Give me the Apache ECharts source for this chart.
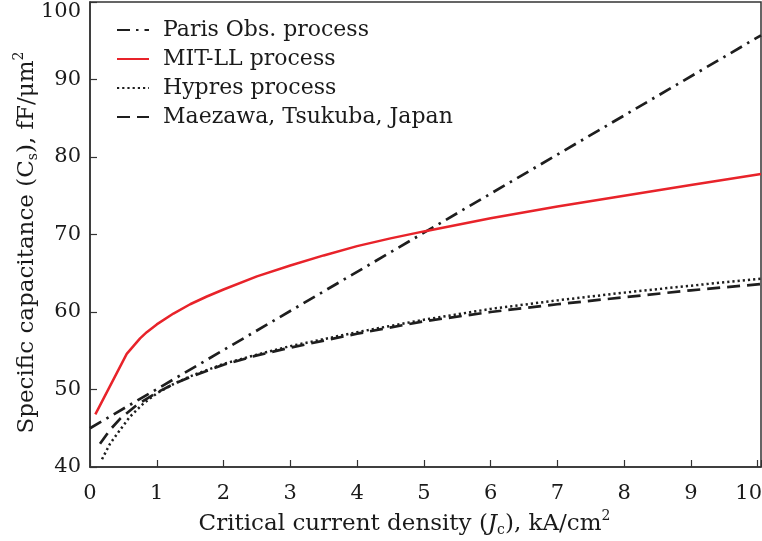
<!DOCTYPE html>
<html><head><meta charset="utf-8">
<script src="https://cdn.jsdelivr.net/npm/echarts@6/dist/echarts.min.js"></script>
<style>html,body{margin:0;padding:0;background:#fff}#c{width:762px;height:541px}</style>
</head><body><div id="c"></div>
<script>
const seriesNames = ['Paris Obs. process', 'MIT-LL process', 'Hypres process', 'Maezawa, Tsukuba, Japan'];
const parisX = [0, 10.05];
const parisY = [45.0, 95.7];
const mitX = [0.08, 0.55, 0.65, 0.75, 0.85, 1, 1.25, 1.5, 1.75, 2, 2.5, 3, 3.5, 4, 4.5, 5, 6, 7, 8, 9, 10.05];
const mitY = [46.8, 54.6, 55.6, 56.6, 57.4, 58.4, 59.8, 61.0, 62.0, 62.9, 64.6, 66.0, 67.3, 68.5, 69.5, 70.4, 72.1, 73.6, 75.0, 76.4, 77.8];
const hypX = [0.18, 0.3, 0.46, 0.6, 0.8, 1, 1.25, 1.5, 2, 2.5, 3, 4, 5, 6, 7, 8, 9, 10.05];
const hypY = [41.0, 43.0, 44.9, 46.5, 48.2, 49.5, 50.7, 51.7, 53.3, 54.5, 55.6, 57.4, 59.0, 60.4, 61.5, 62.5, 63.4, 64.3];
const maeX = [0.15, 0.3, 0.46, 0.7, 1, 1.25, 1.5, 2, 2.5, 3, 4, 5, 6, 7, 8, 9, 10.05];
const maeY = [43.0, 44.8, 46.3, 48.0, 49.6, 50.7, 51.6, 53.2, 54.4, 55.4, 57.2, 58.8, 60.0, 61.0, 61.9, 62.8, 63.6];
const xTicks = [0, 1, 2, 3, 4, 5, 6, 7, 8, 9, 10];
const yTicks = [40, 50, 60, 70, 80, 90, 100];

const zip = (xs, ys) => xs.map((x, i) => [x, ys[i]]);
const FONT = 'DejaVu Serif';
const TXT = '#1a1a1a';
const BLK = '#1e1e1e';
const lbl = (fs) => ({fontFamily: FONT, fontSize: fs, color: TXT});

const chart = echarts.init(document.getElementById('c'), null, {renderer: 'canvas'});
chart.setOption({
  animation: false,
  backgroundColor: '#fff',
  grid: {left: 90, top: 2, right: 1, bottom: 74, containLabel: false, outerBoundsMode: 'none',
         show: true, borderColor: '#333', borderWidth: 1.5, backgroundColor: 'transparent'},
  legend: {
    left: 111, top: 14, orient: 'vertical', itemWidth: 32, itemHeight: 14, itemGap: 7,
    itemStyle: {opacity: 0},
    textStyle: {fontFamily: FONT, fontSize: 22, color: TXT, padding: [0, 0, 0, 9]},
    data: seriesNames
  },
  xAxis: {
    type: 'value', min: 0, max: 10.05, interval: 1,
    nameMoveOverlap: false,
    axisLine: {lineStyle: {color: '#333', width: 1.5}},
    axisTick: {inside: true, length: 7, lineStyle: {color: '#333', width: 1.2}},
    splitLine: {show: false},
    axisLabel: Object.assign(lbl(21), {margin: 16,
      formatter: v => {
        const r = Math.round(v * 100) / 100;
        if (!xTicks.includes(r)) return '';
        return r === 10 ? '{e|10}' : String(r);
      },
      rich: {e: Object.assign(lbl(21), {padding: [0, 18, 0, 0]})}}),
    name: '{n|Critical current density (}{i|J}{s|c}{n|), kA/cm}{p|2}',
    nameLocation: 'middle', nameGap: 42,
    nameTextStyle: {padding: [0, 42, 0, 0], rich: {
      n: Object.assign(lbl(23), {lineHeight: 30, verticalAlign: 'middle'}),
      i: Object.assign(lbl(23), {fontStyle: 'italic', lineHeight: 30, verticalAlign: 'middle'}),
      s: Object.assign(lbl(14), {verticalAlign: 'bottom', lineHeight: 30, padding: [0, 0, 2, 0]}),
      p: Object.assign(lbl(14), {verticalAlign: 'top', lineHeight: 30})
    }}
  },
  yAxis: {
    type: 'value', min: 40, max: 100, interval: 10,
    nameMoveOverlap: false,
    axisLine: {lineStyle: {color: '#333', width: 1.5}},
    axisTick: {inside: true, length: 7, lineStyle: {color: '#333', width: 1.2}},
    splitLine: {show: false},
    axisLabel: Object.assign(lbl(21), {margin: 9,
      formatter: v => yTicks.includes(v) ? (v === 100 ? '{t|100}' : String(v)) : '',
      rich: {t: Object.assign(lbl(21), {padding: [20, 0, 0, 0]})}}),
    name: '{n|Specific capacitance (C}{s|s}{n|), fF/μm}{p|2}',
    nameLocation: 'middle', nameGap: 48, nameRotate: 90,
    nameTextStyle: {padding: [0, 16, 0, 0], rich: {
      n: Object.assign(lbl(23), {lineHeight: 30, verticalAlign: 'middle'}),
      s: Object.assign(lbl(14), {verticalAlign: 'bottom', lineHeight: 30, padding: [0, 0, 2, 0]}),
      p: Object.assign(lbl(14), {verticalAlign: 'top', lineHeight: 30})
    }}
  },
  series: [
    {name: seriesNames[0], type: 'line', data: zip(parisX, parisY), symbol: 'none', smooth: false,
     lineStyle: {color: BLK, width: 2.7, type: [13, 6, 2.5, 6]}, itemStyle: {color: BLK, opacity: 0}},
    {name: seriesNames[1], type: 'line', data: zip(mitX, mitY), symbol: 'none', smooth: false,
     lineStyle: {color: '#e8232a', width: 2.5, type: 'solid'}, itemStyle: {color: '#e8232a', opacity: 0}},
    {name: seriesNames[2], type: 'line', data: zip(hypX, hypY), symbol: 'none', smooth: false,
     lineStyle: {color: BLK, width: 2.5, type: [2.2, 3]}, itemStyle: {color: BLK, opacity: 0}},
    {name: seriesNames[3], type: 'line', data: zip(maeX, maeY), symbol: 'none', smooth: false,
     lineStyle: {color: BLK, width: 2.7, type: [13, 7]}, itemStyle: {color: BLK, opacity: 0}}
  ]
});
</script></body></html>
